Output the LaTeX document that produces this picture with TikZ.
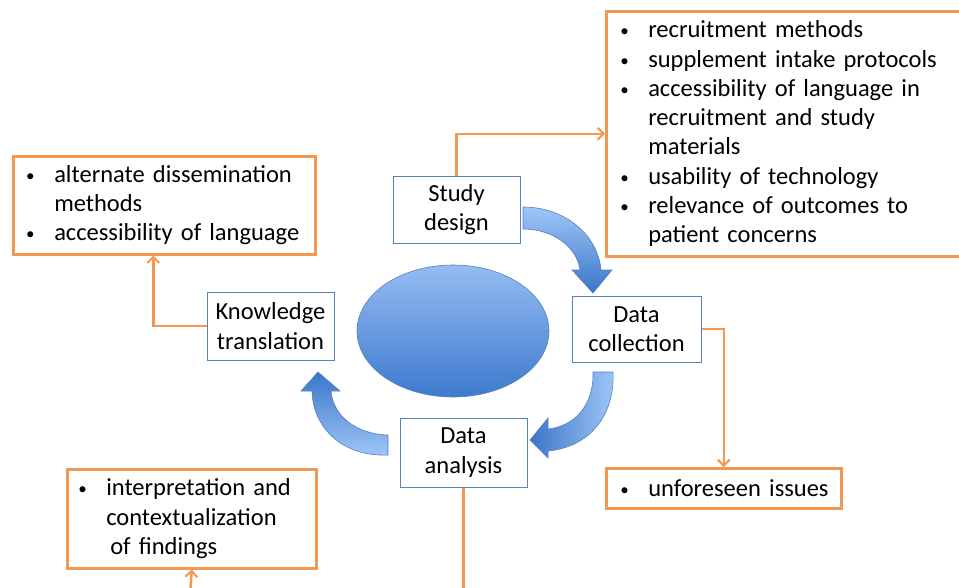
\documentclass[tikz,border=0pt]{standalone}
\usepackage{fontspec}
\setmainfont{Carlito}
\usetikzlibrary{arrows.meta}
\definecolor{org}{RGB}{241,152,82}
\definecolor{bblue}{RGB}{84,130,190}
\definecolor{lblue}{RGB}{160,198,248}
\definecolor{dblue}{RGB}{58,118,200}
\definecolor{elight}{RGB}{148,188,242}
\definecolor{edark}{RGB}{62,122,205}
\newcommand\diagfont{\fontsize{24.5}{29.3}\selectfont\spaceskip=7.5pt plus 2pt minus 1pt\relax}
\newcommand\bitem[1]{\makebox[25pt][l]{\hspace{-3pt}\raisebox{1pt}{\fontsize{17}{17}\selectfont •}}\mbox{#1}}
\newcommand\cont[1]{\hspace*{25pt}\mbox{#1}}
\hbadness=10000 \hfuzz=400pt
\begin{document}
\begin{tikzpicture}[x=1pt,y=-1pt,
  font=\diagfont,
  bbox/.style={draw=bblue, line width=1pt, fill=white, align=center, inner sep=0pt},
  obox/.style={draw=org, line width=2.5pt, fill=white, align=left, inner ysep=0pt},
  oline/.style={draw=org, line width=2.5pt},
  oarrow/.style={oline, -{Straight Barb[length=6pt,width=12pt,line width=2pt]}},
  barrow/.style={draw=bblue, line width=0.6pt}
]
\useasboundingbox (0,0) rectangle (959,587);
\fill[white] (0,0) rectangle (959,587);

% central ellipse
\shadedraw[draw=bblue, line width=0.6pt, top color=elight, bottom color=edark]
  (453,331) ellipse [x radius=96, y radius=66];

% curved block arrows
\shadedraw[barrow, top color=lblue, bottom color=dblue]
  (523,207) .. controls (565,207) and (598,235) .. (601,270) -- (612,270) -- (593,293)
  -- (572,270) -- (580,270) .. controls (577,247) and (553,229) .. (523,229) -- cycle;
\shadedraw[barrow, left color=dblue, right color=lblue]
  (593,372) -- (613,372) .. controls (615,415) and (590,447) .. (548,451) -- (548,458)
  -- (530,440) -- (548,418) -- (548,429) .. controls (575,426) and (594,405) .. (593,372) -- cycle;
\shadedraw[barrow, top color=dblue, bottom color=lblue]
  (388,435) -- (388,455) .. controls (345,457) and (313,430) .. (312,391) -- (301,391)
  -- (318,372) -- (340,391) -- (331,391) .. controls (333,415) and (355,434) .. (388,435) -- cycle;

% blue stage boxes
\node[bbox, minimum width=127, minimum height=67] (sd) at (456.5,209.5) {Study\\design};
\node[bbox, minimum width=129, minimum height=66] (dc) at (636.5,329) {Data\\collection};
\node[bbox, minimum width=127, minimum height=69] (da) at (463.5,452.5) {Data\\analysis};
\node[bbox, minimum width=127, minimum height=68] (kt) at (270.5,326) {Knowledge\\translation};

% orange boxes
\node[obox, anchor=north west, inner xsep=17pt, text width=323, minimum height=245] (rb) at (605,10)
  {\bitem{recruitment methods}\\
   \bitem{supplement intake protocols}\\
   \bitem{accessibility of language in}\\
   \cont{recruitment and study}\\
   \cont{materials}\\
   \bitem{usability of technology}\\
   \bitem{relevance of outcomes to}\\
   \cont{patient concerns}};
\node[obox, anchor=north west, inner xsep=16pt, text width=270, minimum height=98] (lb) at (12,155)
  {\bitem{alternate dissemination}\\
   \cont{methods}\\
   \bitem{accessibility of language}};
\node[obox, anchor=north west, inner xsep=14pt, text width=221, minimum height=99] (ib) at (66,468)
  {\bitem{interpretation and}\\
   \cont{contextualization}\\
   \cont{\,of findings}};
\node[obox, anchor=north west, inner xsep=17pt, text width=201, minimum height=40] (ub) at (605,467)
  {\bitem{unforeseen issues}};

% connectors
\coordinate (dabot) at (463.5,590);
\coordinate (ibot) at (190.5,590);
\draw[oarrow] (sd.north) |- (rb.west);
\draw[oarrow] (kt.west) -| ([xshift=-11pt]lb.south);
\draw[oarrow] (dc.east) -| (ub.north);
\draw[oline] (da.south) -- (dabot);
\draw[oarrow] (ibot) -- (ib.south);
\end{tikzpicture}
\end{document}
